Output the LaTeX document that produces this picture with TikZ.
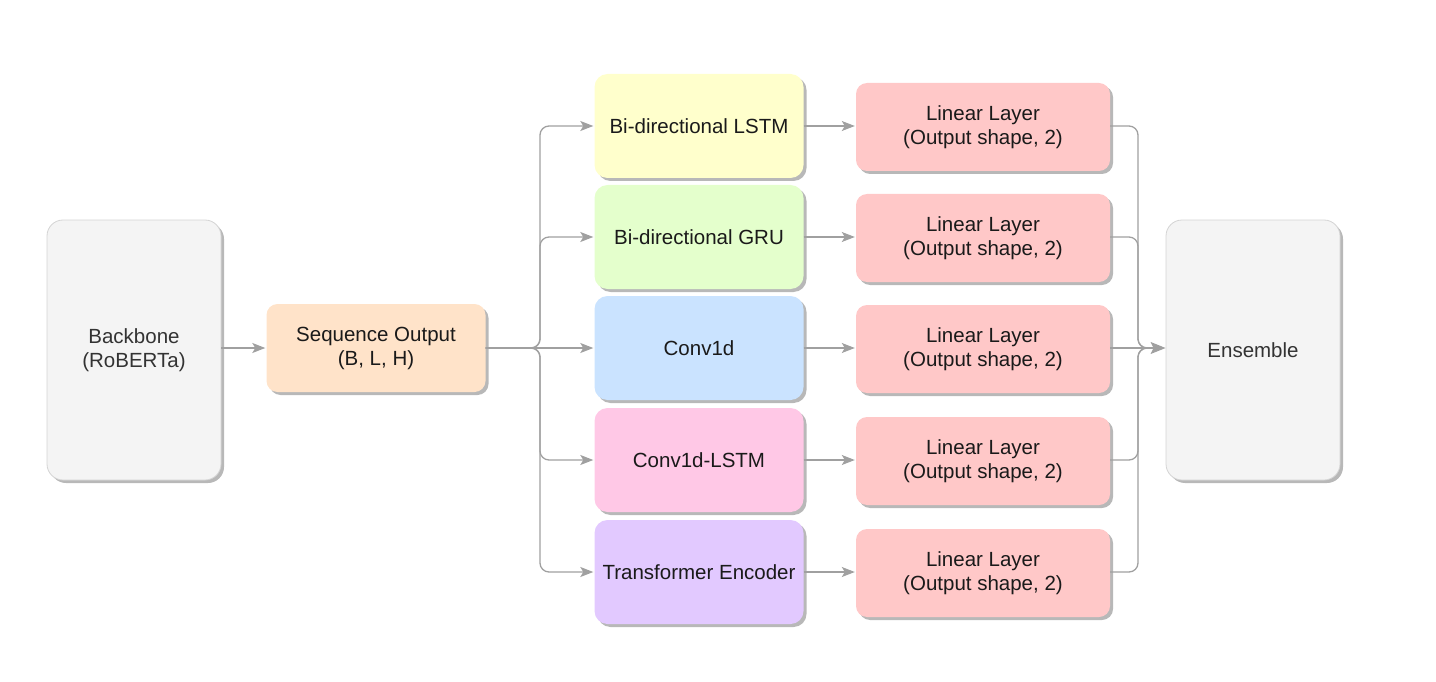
\documentclass[tikz,border=0pt]{standalone}
\usepackage{fontspec}
\setmainfont{Liberation Sans}
\usetikzlibrary{shadows,arrows.meta}
\definecolor{grayfill}{HTML}{F4F4F4}
\definecolor{grayline}{HTML}{D4D4D4}
\definecolor{seqc}{HTML}{FFE3C9}
\definecolor{lstmc}{HTML}{FFFFCC}
\definecolor{gruc}{HTML}{E4FFCC}
\definecolor{convc}{HTML}{CAE3FF}
\definecolor{clstmc}{HTML}{FFC8E6}
\definecolor{transc}{HTML}{E2C9FF}
\definecolor{linc}{HTML}{FFC8C8}
\definecolor{edgec}{HTML}{A0A0A0}
\definecolor{txtc}{HTML}{1A1A1A}
\definecolor{graytxt}{HTML}{333333}
\begin{document}
\begin{tikzpicture}[x=1pt,y=-1pt,
  boxbase/.style={draw=none, align=center, inner sep=0pt, text=txtc,
    font=\fontsize{20.5}{24}\selectfont,
    drop shadow={shadow xshift=3pt, shadow yshift=-3pt, fill=black, opacity=0.28}},
  bigbox/.style={boxbase, draw=grayline, line width=0.8pt, fill=grayfill, text=graytxt,
    rounded corners=16pt, minimum width=174pt, minimum height=260pt},
  seqbox/.style={boxbase, fill=seqc, rounded corners=11pt, minimum width=219pt, minimum height=88pt},
  modbox/.style={boxbase, rounded corners=13pt, minimum width=209pt, minimum height=104pt},
  linbox/.style={boxbase, fill=linc, rounded corners=11pt, minimum width=254pt, minimum height=88pt},
  conn/.style={draw=edgec, line width=1.3pt, rounded corners=9pt, shorten >=1pt,
    -{Stealth[length=13pt, width=10pt, inset=3pt]}},
  bigarrow/.style={draw=edgec, line width=1.3pt,
    -{Stealth[length=15pt, width=12pt, inset=3pt]}},
  connplain/.style={draw=edgec, line width=1.3pt, rounded corners=9pt}
]
\useasboundingbox (0,0) rectangle (1436,682);

\node[bigbox] (bb) at (134,350) {Backbone\\(RoBERTa)};
\node[seqbox] (seq) at (376,348) {Sequence Output\\(B, L, H)};

\node[modbox, fill=lstmc]  (m1) at (699,126) {Bi-directional LSTM};
\node[modbox, fill=gruc]   (m2) at (699,237) {Bi-directional GRU};
\node[modbox, fill=convc]  (m3) at (699,348) {Conv1d};
\node[modbox, fill=clstmc] (m4) at (699,460) {Conv1d-LSTM};
\node[modbox, fill=transc] (m5) at (699,572) {Transformer Encoder};

\node[linbox] (l1) at (983,127) {Linear Layer\\(Output shape, 2)};
\node[linbox] (l2) at (983,238) {Linear Layer\\(Output shape, 2)};
\node[linbox] (l3) at (983,349) {Linear Layer\\(Output shape, 2)};
\node[linbox] (l4) at (983,461) {Linear Layer\\(Output shape, 2)};
\node[linbox] (l5) at (983,573) {Linear Layer\\(Output shape, 2)};

\node[bigbox] (ens) at (1253,350) {Ensemble};

\coordinate (split) at (540,348);
\coordinate (merge) at (1138,348);
\coordinate (mergeout) at (1156,348);

\draw[conn] (bb.east |- seq.west) -- (seq.west);

\draw[conn] (seq.east) -- (split) |- (m1.west);
\draw[conn] (seq.east) -- (split) |- (m2.west);
\draw[conn] (seq.east) -- (m3.west);
\draw[conn] (seq.east) -- (split) |- (m4.west);
\draw[conn] (seq.east) -- (split) |- (m5.west);

\foreach \i in {1,...,5} {
  \draw[conn] (m\i.east) -- (l\i.west |- m\i.east);
}

\draw[connplain] (l1.east |- m1.east) -| (merge) -- (mergeout);
\draw[connplain] (l2.east |- m2.east) -| (merge) -- (mergeout);
\draw[connplain] (l4.east |- m4.east) -| (merge) -- (mergeout);
\draw[connplain] (l5.east |- m5.east) -| (merge) -- (mergeout);
\draw[bigarrow] (l3.east |- m3.east) -- (ens.west |- m3.east);
\end{tikzpicture}
\end{document}
